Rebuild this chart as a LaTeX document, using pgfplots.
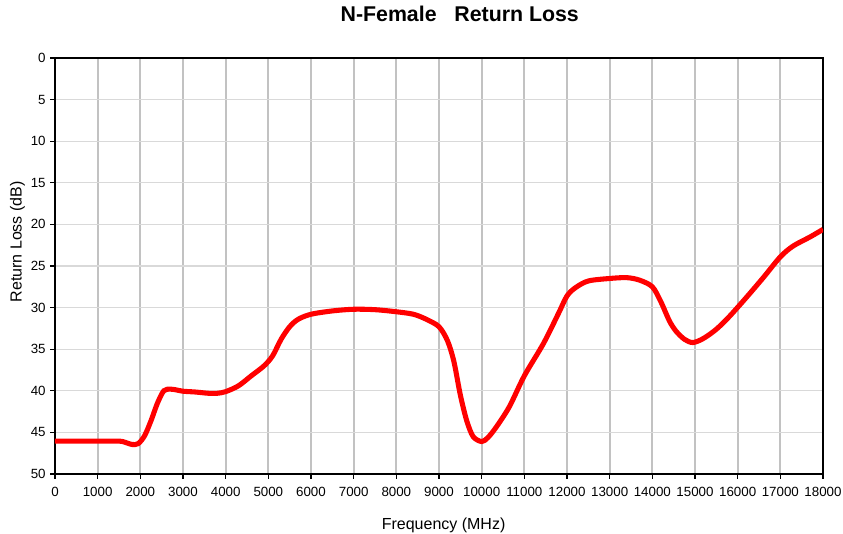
\documentclass[border=0pt]{standalone}
\usepackage{fontspec}
\setmainfont{Liberation Sans}
\usepackage{pgfplots}
\pgfplotsset{compat=1.18}
\begin{document}
\begin{tikzpicture}
\begin{axis}[
  scale only axis,
  width=576pt, height=312pt,
  xmin=0, xmax=18000, ymin=0, ymax=50,
  y dir=reverse,
  xtick={0,1000,...,18000},
  ytick={0,5,...,50},
  scaled x ticks=false,
  /pgf/number format/assume math mode=true,
  tick label style={font=\fontsize{10pt}{12pt}\selectfont},
  xticklabel style={yshift=-2.5pt, /pgf/number format/.cd, fixed, 1000 sep={}},
  tick align=outside,
  tick pos=left,
  major tick length=3.5pt,
  every tick/.style={black, line width=0.9pt},
  axis line style={line width=1.6pt},
  xmajorgrids, ymajorgrids,
  x grid style={color=black!24, line width=1.5pt},
  y grid style={color=black!15, line width=0.8pt},
  title={\fontsize{16pt}{19pt}\selectfont\bfseries N-Female\ \ \ Return Loss},
  title style={at={(axis description cs:0.527,1.0865)}, anchor=center},
  xlabel={Frequency (MHz)},
  ylabel={Return Loss (dB)},
  label style={font=\fontsize{12pt}{14pt}\selectfont},
  xlabel style={at={(axis description cs:0.506,-0.1226)}, anchor=center},
  ylabel style={at={(axis description cs:-0.049,0.558)}, anchor=center, rotate=0},
]
\addplot[color=red, line width=3.8pt, smooth, tension=0.5] coordinates {
(0,46.05) (500,46.05) (1000,46.05) (1500,46.05) (1650,46.2) (1800,46.45) (1950,46.35)
(2100,45.4) (2250,43.6) (2400,41.5) (2550,40.0) (2700,39.8) (2850,39.9) (3000,40.05)
(3300,40.15) (3600,40.3) (3800,40.3) (4000,40.1) (4300,39.4) (4600,38.2) (4900,37.0)
(5100,35.8) (5300,33.8) (5500,32.3) (5700,31.4) (6000,30.8) (6500,30.4) (7000,30.2)
(7500,30.25) (8000,30.5) (8400,30.8) (8700,31.4) (9000,32.3) (9200,34.0) (9350,36.5)
(9500,40.5) (9650,43.6) (9800,45.5) (10000,46.1) (10150,45.6) (10350,44.3) (10650,41.9)
(11000,38.2) (11450,34.3) (11800,30.7) (12000,28.6) (12200,27.6) (12500,26.8) (13000,26.5)
(13400,26.4) (13700,26.7) (14000,27.5) (14200,29.3) (14400,31.6) (14550,32.8) (14750,33.8)
(14950,34.2) (15200,33.7) (15500,32.6) (15800,31.1) (16200,28.8) (16600,26.4) (17000,23.9)
(17300,22.6) (17700,21.5) (18000,20.6)
};
\end{axis}
\pgfresetboundingbox
\path (current axis.south west) ++(-41.25pt,-45pt) rectangle ([shift={(15pt,43.5pt)}]current axis.north east);
\end{tikzpicture}
\end{document}
